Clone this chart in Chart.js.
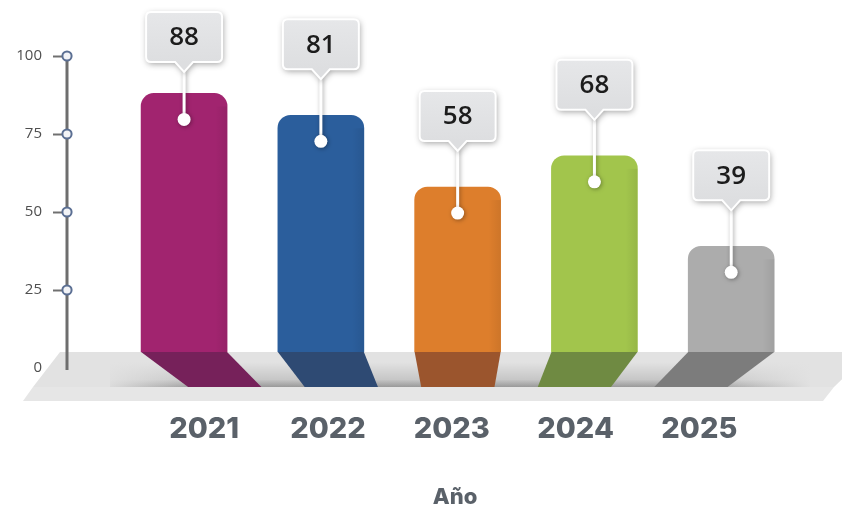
<!DOCTYPE html>
<html>
<head>
<meta charset="utf-8">
<script src="https://cdn.jsdelivr.net/npm/chart.js@4.4.1/dist/chart.umd.min.js"></script>
<style>
html,body{margin:0;padding:0;background:#fff;}
#wrap{width:842px;height:510px;position:relative;}
</style>
</head>
<body>
<div id="wrap"><canvas id="c" width="842" height="510"></canvas></div>
<script>
const categories = ['2021', '2022', '2023', '2024', '2025'];
const values = [88, 81, 58, 68, 39];
const barColors = ['#A1246F', '#2B5E9C', '#DD7E2C', '#A2C54C', '#ACACAC'];
const shadowColors = ['#76215A', '#2E4A73', '#9B552D', '#6F8A42', '#7C7C7C'];
const yTicks = [0, 25, 50, 75, 100];
const xTitle = 'Año';

const FLOOR_TOP = 352, FLOOR_MID = 387, FLOOR_BOT = 401;
const VANISH_X = 459;

const decor = {
  id: 'decor',
  afterDatasetsDraw(chart) {
    const ctx = chart.ctx;
    const ys = chart.scales.y;
    const meta = chart.getDatasetMeta(0);
    ctx.save();
    // subtle right-edge shading on bars
    meta.data.forEach((bar) => {
      const r = bar.x + bar.width / 2;
      const sg = ctx.createLinearGradient(r - 12, 0, r, 0);
      sg.addColorStop(0, 'rgba(0,0,0,0)');
      sg.addColorStop(1, 'rgba(0,0,0,0.07)');
      ctx.fillStyle = sg;
      ctx.fillRect(r - 12, bar.y + 13, 12, FLOOR_TOP - bar.y - 13);
    });
    // floor top surface
    ctx.beginPath();
    ctx.moveTo(60, FLOOR_TOP);
    ctx.lineTo(870, FLOOR_TOP);
    ctx.lineTo(834, FLOOR_MID);
    ctx.lineTo(33, FLOOR_MID);
    ctx.closePath();
    ctx.fillStyle = '#E2E2E2';
    ctx.fill();
    // front strip
    ctx.beginPath();
    ctx.moveTo(33, FLOOR_MID);
    ctx.lineTo(834, FLOOR_MID);
    ctx.lineTo(823, FLOOR_BOT);
    ctx.lineTo(23, FLOOR_BOT);
    ctx.closePath();
    ctx.fillStyle = '#E6E6E6';
    ctx.fill();
    // shadow band
    const g = ctx.createLinearGradient(0, 362, 0, FLOOR_MID);
    g.addColorStop(0, 'rgba(0,0,0,0)');
    g.addColorStop(0.7, 'rgba(0,0,0,0.12)');
    g.addColorStop(1, 'rgba(0,0,0,0.32)');
    ctx.fillStyle = g;
    ctx.fillRect(110, 362, 700, FLOOR_MID - 362);
    let h1 = ctx.createLinearGradient(100, 0, 200, 0);
    h1.addColorStop(0, 'rgba(226,226,226,1)');
    h1.addColorStop(1, 'rgba(226,226,226,0)');
    ctx.fillStyle = h1;
    ctx.fillRect(100, 360, 100, FLOOR_MID - 360);
    let h2 = ctx.createLinearGradient(700, 0, 812, 0);
    h2.addColorStop(0, 'rgba(226,226,226,0)');
    h2.addColorStop(1, 'rgba(226,226,226,1)');
    ctx.fillStyle = h2;
    ctx.fillRect(700, 360, 112, FLOOR_MID - 360);

    // bar shadows on floor
    meta.data.forEach((bar, i) => {
      const l = bar.x - bar.width / 2, r = bar.x + bar.width / 2;
      const k = 0.148;
      ctx.beginPath();
      ctx.moveTo(l, FLOOR_TOP);
      ctx.lineTo(r, FLOOR_TOP);
      ctx.lineTo(r + k * (VANISH_X - r), FLOOR_MID);
      ctx.lineTo(l + k * (VANISH_X - l), FLOOR_MID);
      ctx.closePath();
      ctx.fillStyle = shadowColors[i];
      ctx.fill();
    });

    // y axis line and tick circles
    const ax = chart.chartArea.left;
    ctx.strokeStyle = '#6E6E6E';
    ctx.lineWidth = 3;
    ctx.beginPath();
    ctx.moveTo(ax, ys.getPixelForValue(100));
    ctx.lineTo(ax, ys.getPixelForValue(0) + 2);
    ctx.stroke();
    yTicks.forEach(v => {
      if (v === 0) return;
      const y = ys.getPixelForValue(v);
      ctx.beginPath();
      ctx.arc(ax, y, 4.6, 0, Math.PI * 2);
      ctx.fillStyle = '#F2F3F6';
      ctx.fill();
      ctx.lineWidth = 2;
      ctx.strokeStyle = '#5B6F93';
      ctx.stroke();
    });

    // callouts
    meta.data.forEach((bar, i) => {
      const top = bar.y;
      const cx = bar.x;
      const dotY = top + 26;
      const bw = 76, bh = 50;
      let boxBottom = top - 46;
      if (boxBottom - bh < 12) boxBottom = 12 + bh;
      const boxTop = boxBottom - bh;
      const tipY = boxBottom + 10;
      ctx.save();
      ctx.shadowColor = 'rgba(0,0,0,0.35)';
      ctx.shadowBlur = 4;
      ctx.shadowOffsetX = 1;
      ctx.shadowOffsetY = 1;
      ctx.strokeStyle = '#FFFFFF';
      ctx.lineWidth = 3;
      ctx.beginPath();
      ctx.moveTo(cx, tipY - 2);
      ctx.lineTo(cx, dotY);
      ctx.stroke();
      ctx.beginPath();
      ctx.arc(cx, dotY, 6.5, 0, Math.PI * 2);
      ctx.fillStyle = '#FFFFFF';
      ctx.fill();
      ctx.restore();
      ctx.save();
      ctx.shadowColor = 'rgba(0,0,0,0.38)';
      ctx.shadowBlur = 6;
      ctx.shadowOffsetX = 1;
      ctx.shadowOffsetY = 2;
      const x0 = cx - bw / 2, r = 5;
      ctx.beginPath();
      ctx.moveTo(x0 + r, boxTop);
      ctx.lineTo(x0 + bw - r, boxTop);
      ctx.quadraticCurveTo(x0 + bw, boxTop, x0 + bw, boxTop + r);
      ctx.lineTo(x0 + bw, boxBottom - r);
      ctx.quadraticCurveTo(x0 + bw, boxBottom, x0 + bw - r, boxBottom);
      ctx.lineTo(cx + 9, boxBottom);
      ctx.lineTo(cx, tipY);
      ctx.lineTo(cx - 9, boxBottom);
      ctx.lineTo(x0 + r, boxBottom);
      ctx.quadraticCurveTo(x0, boxBottom, x0, boxBottom - r);
      ctx.lineTo(x0, boxTop + r);
      ctx.quadraticCurveTo(x0, boxTop, x0 + r, boxTop);
      ctx.closePath();
      const bg = ctx.createLinearGradient(0, boxTop, 0, boxBottom);
      bg.addColorStop(0, '#E6E7E9');
      bg.addColorStop(1, '#DDDEE0');
      ctx.fillStyle = bg;
      ctx.fill();
      ctx.restore();
      ctx.strokeStyle = '#FFFFFF';
      ctx.lineWidth = 2;
      ctx.stroke();
      ctx.fillStyle = '#1C1C1C';
      ctx.font = "600 26px 'Open Sans'";
      ctx.textAlign = 'center';
      ctx.textBaseline = 'middle';
      ctx.fillText(String(values[i]), cx, (boxTop + boxBottom) / 2 + 1);
    });
    ctx.restore();
  },
  afterDraw(chart) {
    const ctx = chart.ctx;
    const meta = chart.getDatasetMeta(0);
    ctx.save();
    ctx.fillStyle = '#5A6169';
    ctx.textAlign = 'center';
    ctx.textBaseline = 'middle';
    ctx.font = "800 29px 'Inter'";
    meta.data.forEach((bar, i) => {
      const x = bar.x + 0.095 * (VANISH_X - bar.x) - 6;
      ctx.fillText(categories[i], x, 429);
    });
    ctx.font = "800 22px 'Inter'";
    ctx.fillText(xTitle, 455, 497);
    ctx.restore();
  }
};

new Chart(document.getElementById('c'), {
  type: 'bar',
  data: {
    datasets: [{
      data: values.map((v, i) => ({ x: i, y: v })),
      backgroundColor: barColors,
      borderWidth: 0,
      borderRadius: 13,
      borderSkipped: 'start',
      barThickness: 86
    }]
  },
  options: {
    responsive: false,
    animation: false,
    devicePixelRatio: 1,
    layout: { padding: { left: 7, top: 56, right: 0, bottom: 142 } },
    plugins: { legend: { display: false }, tooltip: { enabled: false } },
    scales: {
      x: {
        type: 'linear',
        offset: false,
        min: -0.856,
        max: 4.81,
        display: false
      },
      y: {
        min: 0,
        max: 100,
        afterBuildTicks: s => { s.ticks = yTicks.map(v => ({ value: v })); },
        afterFit: s => { s.width = 60; },
        border: { display: false },
        grid: { drawOnChartArea: false, drawTicks: true, tickLength: 14, tickWidth: 2, tickColor: '#707070' },
        ticks: {
          padding: 11,
          color: '#4F4F4F',
          font: { family: "'Open Sans'", size: 15 }
        }
      }
    }
  },
  plugins: [decor]
});
</script>
</body>
</html>
